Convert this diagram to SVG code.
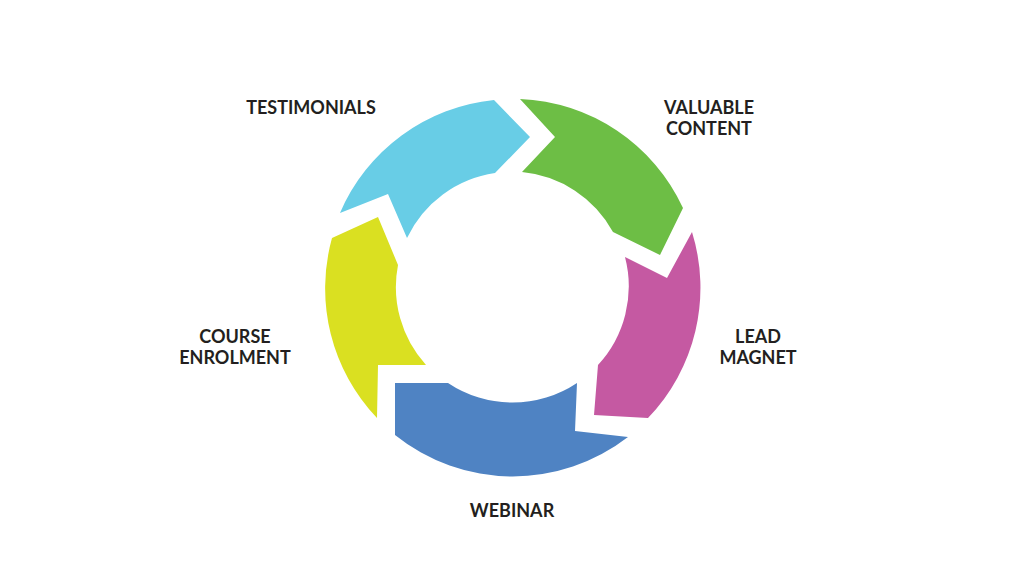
<svg xmlns="http://www.w3.org/2000/svg" width="1024" height="576" viewBox="0 0 1024 576">
  <style>
    .lbl { font-family: Lato, "Liberation Sans", sans-serif; font-weight: 700; font-size: 18px; fill: #231F20; text-anchor: middle; }
  </style>
  <rect width="1024" height="576" fill="#FFFFFF"/>
  <g id="testimonials">
    <path fill="#68CDE6" d="M340,213 L388,194 L407,238 A116,116 0 0 1 495,173 L530,137 L494,100 A188,188 0 0 0 340,213 Z"/>
    <text class="lbl" x="311" y="114">TESTIMONIALS</text>
  </g>
  <g id="valuable-content">
    <path fill="#6DBE45" d="M520,99 L555,137 L522,172 A116,116 0 0 1 613,232 L660,255 L683,208 A188,188 0 0 0 520,99 Z"/>
    <text class="lbl" x="709" y="114">VALUABLE</text>
    <text class="lbl" x="709" y="135">CONTENT</text>
  </g>
  <g id="lead-magnet">
    <path fill="#C559A2" d="M692,232 L667,278 L625,257 A116,116 0 0 1 598,365 L594,415 L648,418 A188,188 0 0 0 692,232 Z"/>
    <text class="lbl" x="758" y="343">LEAD</text>
    <text class="lbl" x="758" y="364">MAGNET</text>
  </g>
  <g id="webinar">
    <path fill="#4F83C3" d="M628,437 L575,431 L577,383 A116,116 0 0 1 448,383 L395,383 L395,435 A188,188 0 0 0 628,437 Z"/>
    <text class="lbl" x="512" y="517">WEBINAR</text>
  </g>
  <g id="course-enrolment">
    <path fill="#DAE021" d="M377,418 L378,365 L426,365 A116,116 0 0 1 398,265 L378,217 L332,238 A188,188 0 0 0 377,418 Z"/>
    <text class="lbl" x="235" y="343">COURSE</text>
    <text class="lbl" x="235" y="364">ENROLMENT</text>
  </g>
  <g id="connectors"></g>
</svg>
